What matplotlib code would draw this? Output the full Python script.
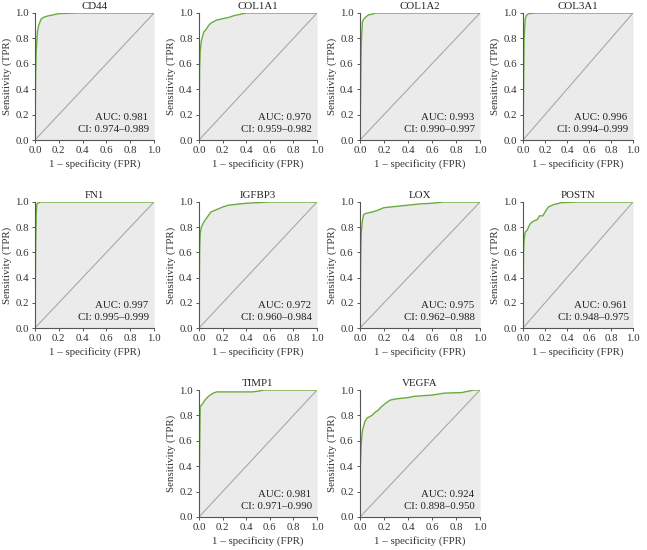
import matplotlib
matplotlib.use('Agg')
import matplotlib.pyplot as plt

plt.rcParams['font.family'] = ['Liberation Serif', 'DejaVu Serif']
plt.rcParams['font.size'] = 7.8

# Genes e valores
genes = ['CD44', 'COL1A1', 'COL1A2', 'COL3A1', 'FN1', 'IGFBP3', 'LOX', 'POSTN', 'TIMP1', 'VEGFA']
auc = ['0.981', '0.970', '0.993', '0.996', '0.997', '0.972', '0.975', '0.961', '0.981', '0.924']
ci = ['0.974–0.989', '0.959–0.982', '0.990–0.997', '0.994–0.999', '0.995–0.999',
      '0.960–0.984', '0.962–0.988', '0.948–0.975', '0.971–0.990', '0.898–0.950']

# Pontos das curvas ROC (estimados da imagem)
fpr_cd44 = [0, 0.005, 0.01, 0.02, 0.03, 0.05, 0.07, 0.1, 0.15, 0.2, 0.35, 1.0]
tpr_cd44 = [0, 0.5, 0.7, 0.85, 0.9, 0.95, 0.965, 0.975, 0.985, 0.995, 1.0, 1.0]
fpr_col1a1 = [0, 0.005, 0.01, 0.02, 0.04, 0.06, 0.08, 0.1, 0.15, 0.2, 0.25, 0.3, 0.4, 1.0]
tpr_col1a1 = [0, 0.55, 0.7, 0.78, 0.85, 0.87, 0.9, 0.92, 0.945, 0.955, 0.965, 0.98, 1.0, 1.0]
fpr_col1a2 = [0, 0.01, 0.02, 0.03, 0.05, 0.07, 0.1, 0.13, 1.0]
tpr_col1a2 = [0, 0.75, 0.93, 0.95, 0.97, 0.985, 0.99, 1.0, 1.0]
fpr_col3a1 = [0, 0.01, 0.02, 0.03, 0.05, 0.12, 1.0]
tpr_col3a1 = [0, 0.8, 0.95, 0.98, 0.995, 1.0, 1.0]
fpr_fn1 = [0, 0.005, 0.01, 0.015, 0.02, 0.05, 1.0]
tpr_fn1 = [0, 0.6, 0.9, 0.98, 0.99, 1.0, 1.0]
fpr_igfbp3 = [0, 0.005, 0.01, 0.02, 0.04, 0.07, 0.1, 0.15, 0.2, 0.25, 0.4, 0.6, 1.0]
tpr_igfbp3 = [0, 0.6, 0.75, 0.8, 0.84, 0.88, 0.92, 0.94, 0.96, 0.975, 0.99, 1.0, 1.0]
fpr_lox = [0, 0.005, 0.01, 0.02, 0.03, 0.05, 0.1, 0.15, 0.2, 0.3, 0.4, 0.5, 0.6, 0.7, 1.0]
tpr_lox = [0, 0.5, 0.75, 0.85, 0.9, 0.91, 0.92, 0.935, 0.955, 0.965, 0.975, 0.985, 0.99, 1.0, 1.0]
fpr_postn = [0, 0.005, 0.01, 0.02, 0.04, 0.06, 0.08, 0.1, 0.13, 0.15, 0.18, 0.2, 0.23, 0.28, 0.35, 0.5, 1.0]
tpr_postn = [0, 0.6, 0.7, 0.76, 0.78, 0.82, 0.84, 0.85, 0.86, 0.89, 0.89, 0.92, 0.96, 0.98, 0.995, 1.0, 1.0]
fpr_timp1 = [0, 0.005, 0.01, 0.03, 0.05, 0.08, 0.12, 0.15, 0.45, 0.5, 0.55, 1.0]
tpr_timp1 = [0, 0.5, 0.87, 0.89, 0.92, 0.95, 0.975, 0.985, 0.985, 0.99, 1.0, 1.0]
fpr_vegfa = [0, 0.003, 0.01, 0.02, 0.04, 0.06, 0.08, 0.1, 0.12, 0.15, 0.18, 0.22, 0.25, 0.3,
             0.4, 0.45, 0.6, 0.7, 0.85, 0.9, 0.95, 1.0]
tpr_vegfa = [0, 0.4, 0.58, 0.68, 0.75, 0.78, 0.79, 0.8, 0.82, 0.84, 0.87, 0.9, 0.92, 0.93,
             0.94, 0.95, 0.96, 0.975, 0.98, 0.99, 1.0, 1.0]

fprs = [fpr_cd44, fpr_col1a1, fpr_col1a2, fpr_col3a1, fpr_fn1, fpr_igfbp3, fpr_lox, fpr_postn, fpr_timp1, fpr_vegfa]
tprs = [tpr_cd44, tpr_col1a1, tpr_col1a2, tpr_col3a1, tpr_fn1, tpr_igfbp3, tpr_lox, tpr_postn, tpr_timp1, tpr_vegfa]

W, H = 647, 550
# posicoes dos eixos em pixels (x0, x1, topo, base)
cols = [(35, 154), (199, 317), (360, 480), (523, 633)]
rows = [(13, 140), (202, 328), (390, 517)]
slots = [(0, 0), (0, 1), (0, 2), (0, 3),
         (1, 0), (1, 1), (1, 2), (1, 3),
         (2, 1), (2, 2)]

fig = plt.figure(figsize=(W / 100, H / 100), dpi=100)
green = '#6aab3c'
ticks = [0, 0.2, 0.4, 0.6, 0.8, 1.0]

for i, gene in enumerate(genes):
    r, c = slots[i]
    x0, x1 = cols[c]
    top, bot = rows[r]
    ax = fig.add_axes([x0 / W, 1 - bot / H, (x1 - x0) / W, (bot - top) / H])
    ax.fill_between(fprs[i], tprs[i], 0, color='#ebebeb', lw=0)
    ax.plot([0, 1], [0, 1], color='#a8a8a8', lw=0.8)
    ax.plot(fprs[i], tprs[i], color=green, lw=1.0)
    ax.set_xlim(0, 1)
    ax.set_ylim(0, 1)
    ax.set_xticks(ticks)
    ax.set_yticks(ticks)
    ax.set_xticklabels([f'{t:.1f}' for t in ticks])
    ax.set_yticklabels([f'{t:.1f}' for t in ticks])
    ax.spines['top'].set_visible(False)
    ax.spines['right'].set_visible(False)
    for s in ['left', 'bottom']:
        ax.spines[s].set_color('#555555')
        ax.spines[s].set_linewidth(0.8)
    ax.tick_params(length=2.5, width=0.7, color='#555555', pad=2, labelsize=7.8, labelcolor='#333333')
    ax.set_title(gene, fontsize=7.8, pad=3, color='#222222')
    ax.set_xlabel('1 – specificity (FPR)', fontsize=7.8, labelpad=3, color='#333333')
    ax.set_ylabel('Sensitivity (TPR)', fontsize=7.8, labelpad=2, color='#333333')
    ax.text(0.95, 0.18, f'AUC: {auc[i]}', transform=ax.transAxes, ha='right', va='center',
            fontsize=7.8, color='#222222')
    ax.text(0.96, 0.085, f'CI: {ci[i]}', transform=ax.transAxes, ha='right', va='center',
            fontsize=7.8, color='#222222')

plt.savefig('out.png', dpi=100)
